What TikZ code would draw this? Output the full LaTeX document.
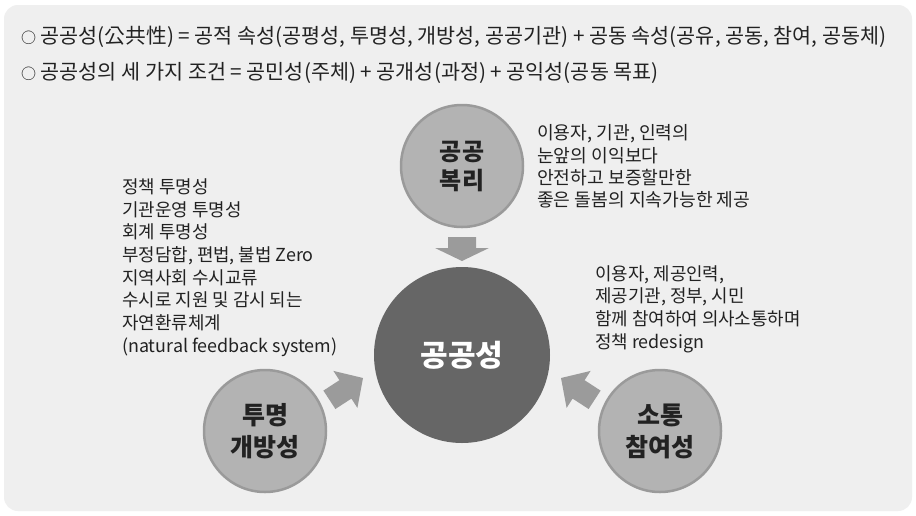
\documentclass[tikz,border=0pt]{standalone}
\usepackage{fontspec}
\setmainfont{Noto Sans CJK KR}
\definecolor{bgc}{HTML}{EFEFEF}
\definecolor{smallc}{HTML}{B3B3B3}
\definecolor{smallb}{HTML}{9A9A9A}
\definecolor{bigc}{HTML}{666666}
\definecolor{arrc}{HTML}{9B9B9B}
\definecolor{txt}{HTML}{222222}
\newcommand{\hcirc}{{\fontsize{15}{15}\selectfont ○}}
\tikzset{
  smallcirc/.style={circle, fill=smallc, draw=smallb, line width=2.5pt, minimum size=122pt, inner sep=0pt, align=center, text=txt, font=\fontsize{24}{30}\selectfont\bfseries},
  bigcirc/.style={circle, fill=bigc, minimum size=176pt, inner sep=0pt, text=white, font=\fontsize{30}{34}\selectfont\bfseries},
  bodytext/.style={align=left, anchor=west, inner sep=0pt, text=txt, font=\fontsize{17.9}{22.7}\selectfont},
  headtext/.style={anchor=west, inner sep=0pt, text=txt, font=\fontsize{20.7}{24}\selectfont},
  blockarrow/.style={fill=arrc, draw=none}
}
\begin{document}
\begin{tikzpicture}[x=1pt,y=-1pt]
\useasboundingbox (0,0) rectangle (916,515);
\fill[white] (0,0) rectangle (916,515);
\fill[bgc, rounded corners=14pt] (4,5) rectangle (912,511);

\node[headtext] (h1) at (21,37) {\hcirc{} 공공성(公共性) = 공적 속성(공평성, 투명성, 개방성, 공공기관) + 공동 속성(공유, 공동, 참여, 공동체)};
\node[headtext] (h2) at (21,73) {\hcirc{} 공공성의 세 가지 조건 = 공민성(주체) + 공개성(과정) + 공익성(공동 목표)};

\node[bigcirc] (core) at (462,355) {공공성};
\node[smallcirc] (top) at (462,166) {공공\\[-1pt]복리};
\node[smallcirc, font=\fontsize{25}{32}\selectfont\bfseries] (left) at (265,431) {투명\\개방성};
\node[smallcirc, font=\fontsize{25}{32}\selectfont\bfseries] (right) at (660,431) {소통\\참여성};

% block arrows
\fill[blockarrow] (448,237) -- (476,237) -- (476,248) -- (489,248) -- (462,261) -- (435,248) -- (448,248) -- cycle;
\fill[blockarrow] (323.4,390.6) -- (339.4,380.2) -- (333.4,370.9) -- (363,378) -- (357.4,407.9) -- (351.4,398.6) -- (335.4,409.0) -- cycle;
\fill[blockarrow] (600.6,390.6) -- (584.6,380.2) -- (590.6,370.9) -- (561,378) -- (566.6,407.9) -- (572.6,398.6) -- (588.6,409.0) -- cycle;

\node[bodytext, font=\fontsize{18.2}{22.4}\selectfont] (ttop) at (537,166.5) {이용자, 기관, 인력의\\눈앞의 이익보다\\안전하고 보증할만한\\좋은 돌봄의 지속가능한 제공};
\node[bodytext] (tleft) at (122,267.5) {정책 투명성\\기관운영 투명성\\회계 투명성\\부정담합, 편법, 불법 Zero\\지역사회 수시교류\\수시로 지원 및 감시 되는\\자연환류체계\\(natural feedback system)};
\node[bodytext] (tright) at (595,309) {이용자, 제공인력,\\제공기관, 정부, 시민\\함께 참여하여 의사소통하며\\정책 redesign};
\end{tikzpicture}
\end{document}
